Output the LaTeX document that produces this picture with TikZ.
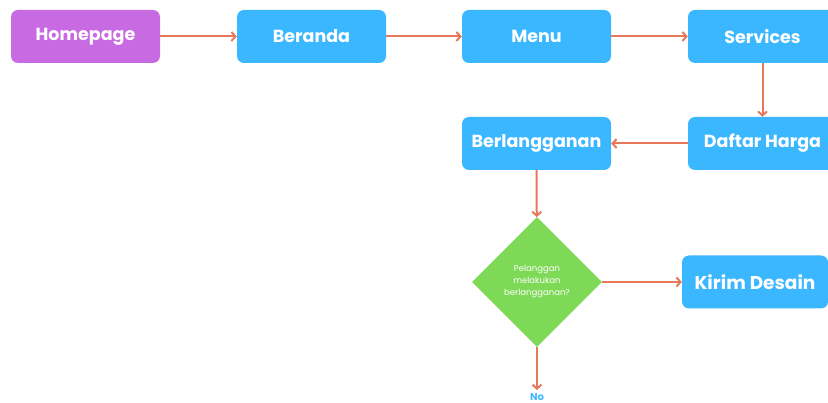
\documentclass[tikz,border=0pt]{standalone}
\usepackage{fontspec}
\setmainfont{Poppins}
\usetikzlibrary{arrows.meta,shapes.geometric}
\definecolor{pur}{HTML}{C86BE3}
\definecolor{blu}{HTML}{3BB7FF}
\definecolor{grn}{HTML}{7ED957}
\definecolor{arr}{HTML}{E8785A}
\begin{document}
\begin{tikzpicture}[x=1pt,y=-1pt,
  box/.style={rectangle,rounded corners=7pt,minimum width=149pt,minimum height=53pt,fill=blu,text=white,font=\bfseries\fontsize{17.5}{20}\selectfont,inner sep=0pt},
  conn/.style={draw=arr,line width=2pt,-{Straight Barb[length=4pt,width=9pt,line width=2pt]}}]
\useasboundingbox (0,0) rectangle (828,403);
\clip (0,0) rectangle (828,403);
\node[box,fill=pur] (home) at (85.5,36.5) {Homepage};
\node[box] (ber) at (311.5,36.5) {Beranda};
\node[box] (menu) at (536.5,36.5) {Menu};
\node[box] (serv) at (762.5,36.5) {Services};
\node[box] (daf) at (762.5,143.5) {Daftar Harga};
\node[box] (lang) at (536.5,143.5) {Berlangganan};
\node[diamond,fill=grn,minimum width=130pt,minimum height=130pt,inner sep=0pt,text=white,align=center,font=\fontsize{8.5}{12}\selectfont] (dec) at (537,282) {Pelanggan\\melakukan\\berlangganan?};
\node[box,minimum width=146pt,font=\bfseries\fontsize{18.5}{22}\selectfont] (kirim) at (755,282) {Kirim Desain};
\coordinate (noend) at (537,390);
\node[text=blu,font=\bfseries\fontsize{10}{12}\selectfont,inner sep=0pt] (no) at (537,397.5) {No};
\draw[conn] (home) -- (ber);
\draw[conn] (ber) -- (menu);
\draw[conn] (menu) -- (serv);
\draw[conn] (serv) -- (daf);
\draw[conn] (daf) -- (lang);
\draw[conn] (lang) -- (dec);
\draw[conn] (dec) -- (kirim);
\draw[conn] (dec) -- (noend);
\end{tikzpicture}
\end{document}
